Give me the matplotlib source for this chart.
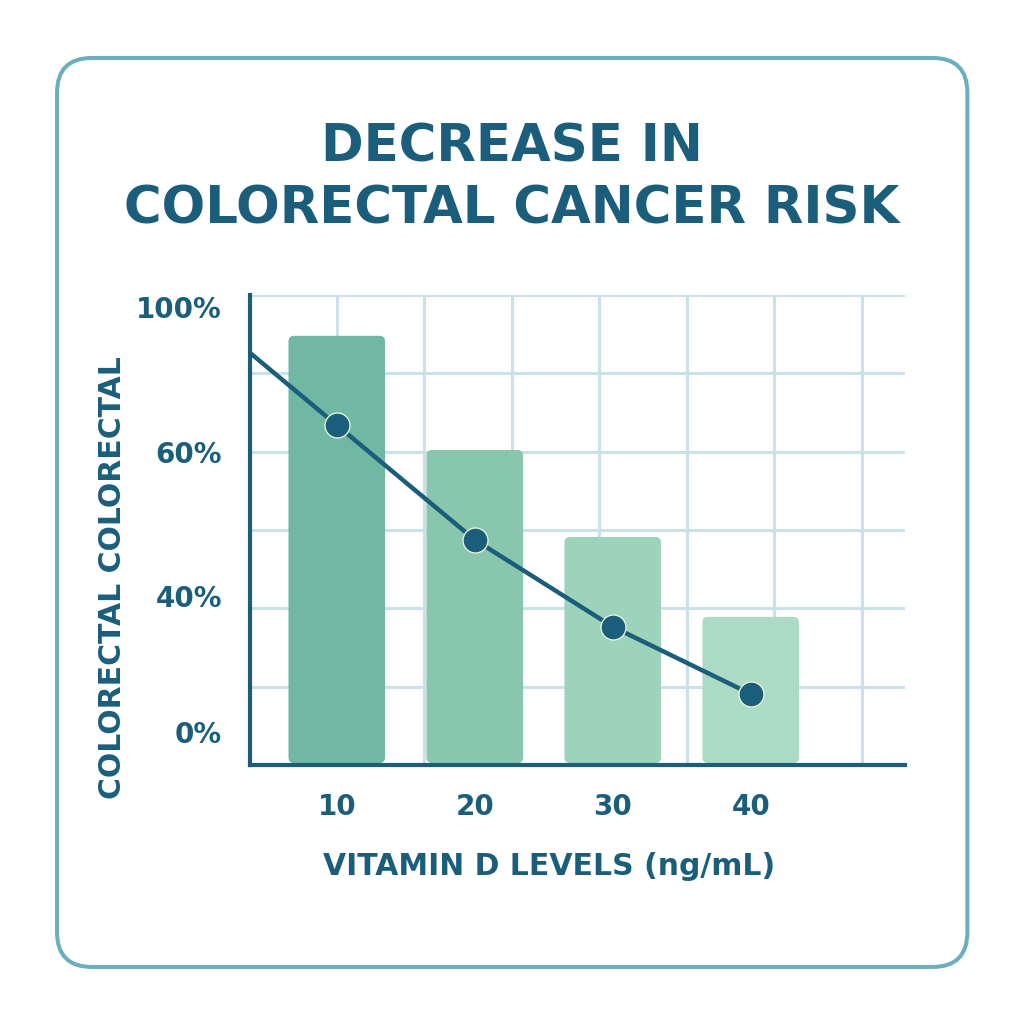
import numpy as np
import matplotlib
matplotlib.use("Agg")
import matplotlib.pyplot as plt
from matplotlib.patches import FancyBboxPatch

# data
levels = ["10", "20", "30", "40"]
bar_risk = [90.9, 66.6, 48.1, 31.1]
line_x = [-0.63, 0, 1, 2, 3]
line_risk = [87.7, 72.3, 47.9, 29.4, 15.1]
tick_pos = [97.5, 66.5, 36.0, 7.0]
tick_labels = ["100%", "60%", "40%", "0%"]
bar_colors = ["#70b8a2", "#88c6ad", "#9dd3ba", "#abdbc4"]

dark = "#1b5e7b"
grid_c = "#cbe1e9"

fig = plt.figure(figsize=(10.24, 10.24), dpi=100)
fig.patch.set_facecolor("white")

# rounded frame around everything
frame = FancyBboxPatch((0.0557, 0.0557), 0.889, 0.8877,
                       boxstyle="round,pad=0,rounding_size=0.034",
                       transform=fig.transFigure, fill=False,
                       edgecolor="#6aaec0", linewidth=2.9, zorder=0)
fig.patches.append(frame)

fig.text(0.5, 0.826, "DECREASE IN\nCOLORECTAL CANCER RISK", ha="center", va="center",
         fontsize=37, fontweight="bold", color=dark, linespacing=1.3)

ax = fig.add_axes([0.244, 0.253, 0.640, 0.459])
x = np.arange(len(levels))

# grid
for gx in np.arange(0, 4.0, 0.634):
    ax.axvline(gx, color=grid_c, lw=2.2, zorder=0)
for gy in np.arange(1, 7) * 100 / 6:
    ax.axhline(gy, color=grid_c, lw=2.2, zorder=0)

# bars with slightly rounded corners
bars = ax.bar(x, bar_risk, width=0.70, color=bar_colors, bottom=0.4)
for b in bars:
    bx, by = b.get_xy()
    rb = FancyBboxPatch((bx, by), b.get_width(), b.get_height(),
                        boxstyle="round,pad=0,rounding_size=0.04",
                        mutation_aspect=29.4, facecolor=b.get_facecolor(),
                        edgecolor="none", zorder=2)
    ax.add_patch(rb)
    b.set_visible(False)

ax.plot(line_x, line_risk, color=dark, lw=3.2, zorder=3, solid_capstyle="round")
ax.plot(line_x[1:], line_risk[1:], "o", color=dark, markersize=18,
        markeredgecolor="#e6f2d8", markeredgewidth=1, zorder=4)

ax.set_xlim(-0.63, 4.12)
ax.set_ylim(0, 100)
ax.set_xticks(x)
ax.set_xticklabels(levels)
ax.set_yticks(tick_pos)
ax.set_yticklabels(tick_labels)
ax.tick_params(length=0, labelsize=20, labelcolor=dark)
for lab in ax.get_xticklabels() + ax.get_yticklabels():
    lab.set_fontweight("bold")
ax.tick_params(axis="x", pad=20)
ax.tick_params(axis="y", pad=20)

for s in ["top", "right"]:
    ax.spines[s].set_visible(False)
for s in ["left", "bottom"]:
    ax.spines[s].set_color(dark)
    ax.spines[s].set_linewidth(3)

fig.text(0.536, 0.154, "VITAMIN D LEVELS (ng/mL)", ha="center", va="center",
         fontsize=21.5, color=dark, fontweight="bold")
fig.text(0.110, 0.436, "COLORECTAL COLORECTAL", ha="center", va="center",
         rotation=90, fontsize=21.5, color=dark, fontweight="bold")

fig.savefig("out.png", dpi=100)
